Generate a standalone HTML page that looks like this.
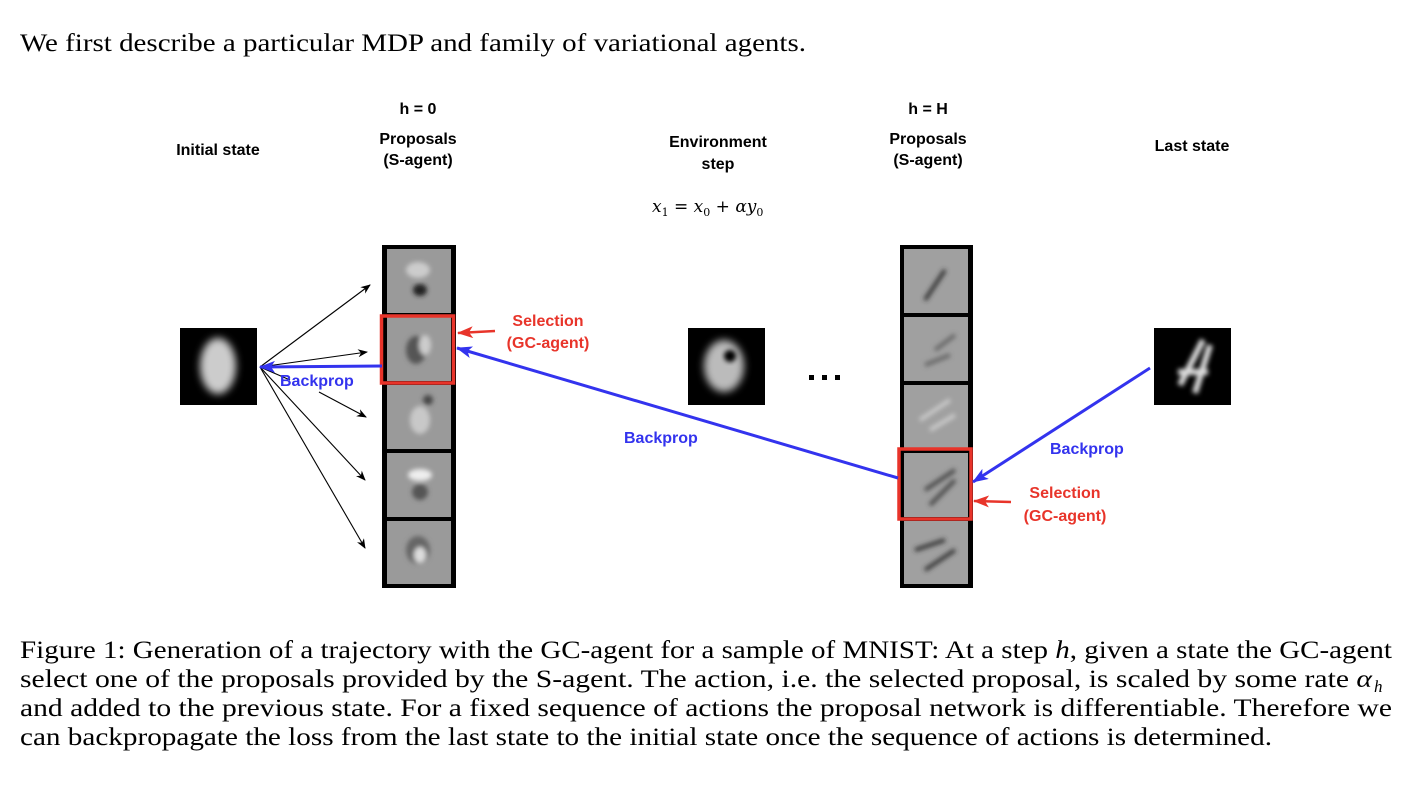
<!DOCTYPE html>
<html><head><meta charset="utf-8"><style>
html,body{margin:0;padding:0;background:#fff;width:1402px;height:800px;overflow:hidden}
svg{display:block}
.b{font-family:"Liberation Sans",Arial,sans-serif;font-weight:bold;font-size:16px}
.s{font-family:"Liberation Serif","Times New Roman",serif;font-size:25px;fill:#000}
</style></head><body>
<svg width="1402" height="800" viewBox="0 0 1402 800" xmlns="http://www.w3.org/2000/svg">
<defs>
<filter id="bl" x="-30%" y="-30%" width="160%" height="160%"><feGaussianBlur stdDeviation="4"/></filter>
<filter id="bl2" x="-30%" y="-30%" width="160%" height="160%"><feGaussianBlur stdDeviation="2.5"/></filter>
<marker id="ak" markerWidth="10" markerHeight="8" refX="9" refY="4" orient="auto" markerUnits="userSpaceOnUse"><path d="M0,0 L10,4 L0,8 L3,4z" fill="#000"/></marker>
<marker id="ab" markerWidth="16" markerHeight="12" refX="15" refY="6" orient="auto" markerUnits="userSpaceOnUse"><path d="M0,0 L16,6 L0,12 L4,6z" fill="#3333ee"/></marker>
<marker id="ar" markerWidth="16" markerHeight="12" refX="15" refY="6" orient="auto" markerUnits="userSpaceOnUse"><path d="M0,0 L16,6 L0,12 L4,6z" fill="#e8342a"/></marker>
</defs>
<text class="s" x="20" y="51" textLength="786" lengthAdjust="spacingAndGlyphs">We first describe a particular MDP and family of variational agents.</text>

<g class="b" text-anchor="middle" fill="#000">
<text x="218" y="155">Initial state</text>
<text x="418" y="114">h = 0</text>
<text x="418" y="144">Proposals</text>
<text x="418" y="165">(S-agent)</text>
<text x="718" y="147">Environment</text>
<text x="718" y="169">step</text>
<text x="928" y="114">h = H</text>
<text x="928" y="144">Proposals</text>
<text x="928" y="165">(S-agent)</text>
<text x="1192" y="151">Last state</text>
</g>
<text x="652" y="212" font-family="'DejaVu Serif',serif" font-style="italic" font-size="17">x<tspan font-size="11" dy="4" font-style="normal">1</tspan><tspan dy="-4" font-style="normal"> = </tspan>x<tspan font-size="11" dy="4" font-style="normal">0</tspan><tspan dy="-4" font-style="normal"> + </tspan>αy<tspan font-size="11" dy="4" font-style="normal">0</tspan></text>

<g>
<rect x="180" y="328" width="77" height="77" fill="#000"/>
<ellipse cx="218" cy="366" rx="18" ry="28" fill="#ccc" filter="url(#bl)"/>
<rect x="688" y="328" width="77" height="77" fill="#000"/>
<ellipse cx="724" cy="366" rx="20" ry="26" fill="#bbb" filter="url(#bl)"/>
<ellipse cx="730" cy="356" rx="6" ry="6" fill="#000" filter="url(#bl2)"/>
<rect x="1154" y="328" width="77" height="77" fill="#000"/>
<path d="M1203,340 L1180,385 M1178,372 L1208,372 M1210,345 L1195,393" stroke="#ddd" stroke-width="6" fill="none" filter="url(#bl2)"/>
</g>
<g fill="#000"><rect x="809" y="375" width="5" height="5"/><rect x="822" y="375" width="5" height="5"/><rect x="835" y="375" width="5" height="5"/></g>

<rect x="382" y="245" width="74" height="343" fill="#000"/>
<g fill="#9a9a9a">
<rect x="387" y="249" width="64" height="64"/>
<rect x="387" y="317" width="64" height="64"/>
<rect x="387" y="385" width="64" height="64"/>
<rect x="387" y="453" width="64" height="64"/>
<rect x="387" y="521" width="64" height="63"/>
</g>
<g filter="url(#bl2)">
<ellipse cx="420" cy="290" rx="7" ry="6" fill="#222"/><ellipse cx="418" cy="270" rx="12" ry="8" fill="#ccc"/>
<ellipse cx="416" cy="350" rx="10" ry="14" fill="#555"/><ellipse cx="425" cy="345" rx="6" ry="10" fill="#ccc"/>
<ellipse cx="420" cy="420" rx="10" ry="14" fill="#c8c8c8"/><ellipse cx="428" cy="400" rx="5" ry="5" fill="#444"/>
<ellipse cx="420" cy="475" rx="12" ry="6" fill="#eee"/><ellipse cx="420" cy="492" rx="8" ry="8" fill="#555"/>
<ellipse cx="418" cy="550" rx="12" ry="14" fill="#666"/><ellipse cx="420" cy="555" rx="6" ry="8" fill="#ddd"/>
</g>
<rect x="381.5" y="316" width="72" height="67" fill="none" stroke="#e8342a" stroke-width="3.5"/>

<rect x="900" y="245" width="73" height="343" fill="#000"/>
<g fill="#a0a0a0">
<rect x="904" y="249" width="64" height="64"/>
<rect x="904" y="317" width="64" height="64"/>
<rect x="904" y="385" width="64" height="64"/>
<rect x="904" y="453" width="64" height="64"/>
<rect x="904" y="521" width="64" height="63"/>
</g>
<g filter="url(#bl2)" stroke-width="4" fill="none">
<path d="M945,270 L925,300" stroke="#333"/><path d="M935,350 L955,335 M925,365 L950,355" stroke="#666"/>
<path d="M920,420 L950,400 M930,430 L955,415" stroke="#ccc"/><path d="M925,490 L955,470 M930,505 L955,480" stroke="#444"/>
<path d="M915,550 L945,540 M925,570 L955,550" stroke="#333"/>
</g>
<rect x="899" y="449" width="72" height="70" fill="none" stroke="#e8342a" stroke-width="3.5"/>

<g stroke="#000" stroke-width="1.1" fill="none" marker-end="url(#ak)">
<line x1="260" y1="367" x2="370" y2="285"/>
<line x1="260" y1="367" x2="367" y2="352"/>
<line x1="319" y1="392" x2="366" y2="417"/>
<line x1="260" y1="367" x2="365" y2="480"/>
<line x1="260" y1="367" x2="365" y2="548"/>
</g>
<line x1="260" y1="367" x2="290" y2="380" stroke="#000" stroke-width="1.1"/>
<g stroke="#3333ee" stroke-width="3" fill="none" marker-end="url(#ab)">
<line x1="382" y1="366" x2="260" y2="367"/>
<line x1="898" y1="478" x2="457" y2="348"/>
<line x1="1150" y1="368" x2="973" y2="482"/>
</g>
<g stroke="#e8342a" stroke-width="2.5" fill="none" marker-end="url(#ar)">
<line x1="495" y1="331" x2="458" y2="333"/>
<line x1="1011" y1="502" x2="974" y2="501"/>
</g>
<g class="b" fill="#3333ee">
<text x="280" y="386">Backprop</text>
<text x="624" y="443">Backprop</text>
<text x="1050" y="454">Backprop</text>
</g>
<g class="b" fill="#e8342a" text-anchor="middle">
<text x="548" y="326">Selection</text>
<text x="548" y="348">(GC-agent)</text>
<text x="1065" y="498">Selection</text>
<text x="1065" y="521">(GC-agent)</text>
</g>

<g class="s">
<text x="20" y="658" textLength="1372" lengthAdjust="spacingAndGlyphs">Figure 1: Generation of a trajectory with the GC-agent for a sample of MNIST: At a step <tspan font-style="italic">h</tspan>, given a state the GC-agent</text>
<text x="20" y="687" textLength="1352" lengthAdjust="spacingAndGlyphs">select one of the proposals provided by the S-agent. The action, i.e. the selected proposal, is scaled by some rate <tspan font-style="italic">α</tspan></text>
<text x="1374" y="692" font-style="italic" font-size="17">h</text>
<text x="20" y="716" textLength="1372" lengthAdjust="spacingAndGlyphs">and added to the previous state. For a fixed sequence of actions the proposal network is differentiable. Therefore we</text>
<text x="20" y="745" textLength="1252" lengthAdjust="spacingAndGlyphs">can backpropagate the loss from the last state to the initial state once the sequence of actions is determined.</text>
</g>
</svg>
</body></html>
